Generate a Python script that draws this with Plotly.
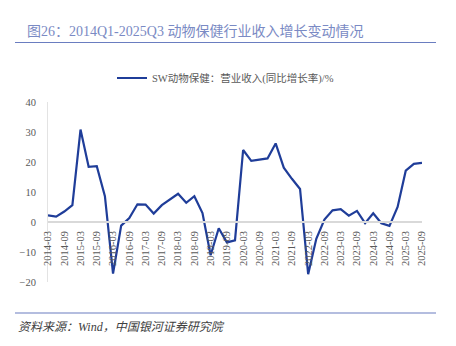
import plotly.graph_objects as go

# Quarter-end labels, 2014Q1 .. 2025Q3
quarters = [f"{y}-{m}" for y in range(2014, 2026) for m in ("03", "06", "09", "12")][:47]

# SW animal health: operating revenue YoY growth (%)
revenue_yoy = [
    2.2, 1.8, 3.5, 5.6, 30.8, 18.4, 18.6, 8.6,
    -17.2, -1.2, 1.3, 5.9, 5.8, 2.8, 5.6, 7.4,
    9.4, 6.4, 8.6, 3.0, -11.1, -2.1, -6.8, -6.1,
    24.0, 20.4, 20.8, 21.2, 26.2, 18.1, 14.4, 11.0,
    -17.4, -5.6, 0.8, 3.9, 4.3, 2.1, 3.7, -0.4,
    2.9, -0.4, -1.3, 5.0, 17.1, 19.4, 19.7,
]

tick_idx = list(range(0, len(quarters), 2))
tick_text = [quarters[i] for i in tick_idx]

W, H = 456, 346
ML, MR, MT, MB = 48, 34, 102, 64
PW, PH = W - ML - MR, H - MT - MB


def px_x(x):
    return (x - ML) / PW


def px_y(y):
    return (H - MB - y) / PH


SERIF_CJK = "Liberation Serif, Noto Sans CJK SC"

fig = go.Figure()
fig.add_trace(go.Scatter(
    x=list(range(len(revenue_yoy))),
    y=revenue_yoy,
    mode="lines",
    name="SW动物保健：营业收入(同比增长率)/%",
    line=dict(color="#1f3d99", width=2.2),
))

fig.update_layout(
    width=W, height=H,
    margin=dict(l=ML, r=MR, t=MT, b=MB),
    paper_bgcolor="white", plot_bgcolor="white",
    showlegend=True,
    legend=dict(
        orientation="h",
        x=px_x(112), xanchor="left",
        y=px_y(78), yanchor="middle",
        font=dict(family=SERIF_CJK, size=10.5, color="#595959"),
        bgcolor="rgba(0,0,0,0)",
    ),
    title=dict(
        text="图26：2014Q1-2025Q3 动物保健行业收入增长变动情况",
        xref="container", yref="container",
        x=27 / W, xanchor="left",
        y=1 - 31 / H, yanchor="middle",
        font=dict(family=SERIF_CJK, size=14, color="#7a8ac4"),
    ),
    xaxis=dict(
        range=[0, len(revenue_yoy) - 1],
        tickmode="array", tickvals=tick_idx, ticktext=tick_text,
        tickangle=-90,
        tickfont=dict(family="Liberation Serif", size=10.5, color="#595959"),
        showgrid=False, zeroline=False,
        showline=True, linecolor="#d9d9d9", linewidth=1.5,
        anchor="free", position=1 / 3,
        ticks="", ticklabelstandoff=4,
    ),
    yaxis=dict(
        range=[-20, 40], dtick=10,
        tickfont=dict(family="Liberation Serif", size=10.5, color="#595959"),
        showgrid=False, zeroline=False,
        showline=True, linecolor="#e3e3e3", linewidth=1,
        ticks="", ticklabelstandoff=9,
    ),
    shapes=[
        dict(type="line", xref="paper", yref="paper",
             x0=px_x(15), x1=px_x(436), y0=px_y(42.5), y1=px_y(42.5),
             line=dict(color="#6a7dc0", width=1.2)),
        dict(type="line", xref="paper", yref="paper",
             x0=px_x(15), x1=px_x(436), y0=px_y(313), y1=px_y(313),
             line=dict(color="#6a7dc0", width=1.2)),
    ],
    annotations=[
        dict(text="<i>资料来源：Wind，中国银河证券研究院</i>",
             xref="paper", yref="paper",
             x=px_x(16), xanchor="left",
             y=px_y(327), yanchor="middle",
             showarrow=False,
             font=dict(family=SERIF_CJK, size=12, color="#404040")),
    ],
)

fig.write_html("out.html")
